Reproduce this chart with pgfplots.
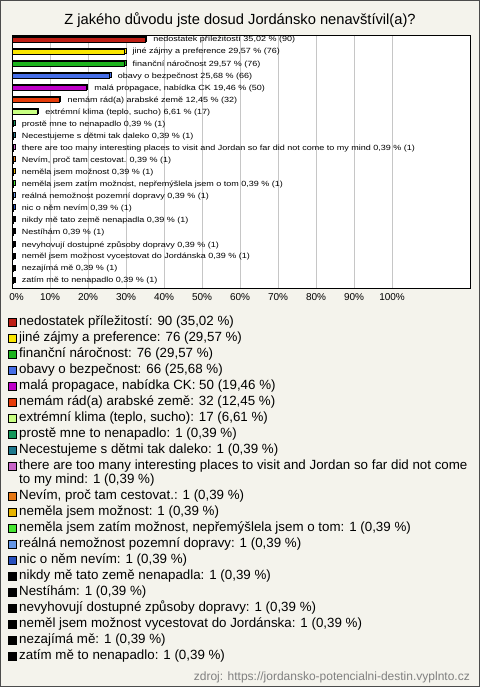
\documentclass[border=0pt]{standalone}
\usepackage{pgfplots}
\pgfplotsset{compat=1.18}
\usepackage{fontspec}
\setmainfont{Liberation Sans}
\newfontfamily\barfont[FakeStretch=1.2]{Liberation Sans}
\definecolor{bg}{RGB}{244,243,236}
\definecolor{ca}{RGB}{190,30,20}
\definecolor{cb}{RGB}{250,230,0}
\definecolor{cc}{RGB}{30,180,30}
\definecolor{cd}{RGB}{70,110,230}
\definecolor{ce}{RGB}{190,0,200}
\definecolor{cf}{RGB}{230,60,10}
\definecolor{cg}{RGB}{200,255,130}
\definecolor{ch}{RGB}{20,150,90}
\definecolor{ci}{RGB}{30,120,140}
\definecolor{cj}{RGB}{200,100,200}
\definecolor{ck}{RGB}{230,120,20}
\definecolor{cl}{RGB}{230,180,0}
\definecolor{cm}{RGB}{70,230,50}
\definecolor{cn}{RGB}{100,150,230}
\definecolor{co}{RGB}{40,80,190}
\definecolor{cz}{RGB}{0,0,0}
\newcommand\mybar[4]{%
\addplot[xbar, bar width=5pt, bar shift=0pt, fill=#3, draw=black, line width=0.7pt, xshift=1.5pt, yshift=1.5pt, forget plot] coordinates {(#2,#1)};
\addplot[xbar, bar width=5pt, bar shift=0pt, fill=#3, draw=black, line width=0.7pt, nodes near coords={#4}, every node near coord/.append style={anchor=west, xshift=8pt, font=\barfont\fontsize{7.5}{8}\selectfont, inner sep=0pt, text=black}, forget plot] coordinates {(#2,#1)};
}
\newcommand\leg[3]{%
\filldraw[fill=#2, draw=black, line width=0.6pt] (8pt,{-#1pt+4pt}) rectangle ++(8pt,-8pt);
\node[anchor=west, inner sep=0pt] at (19pt,{-#1pt}) {\fontsize{13.33}{15}\selectfont #3};}
\begin{document}
\begin{tikzpicture}
\path[use as bounding box] (0,0) rectangle (480pt,-687pt);
\fill[bg] (0,0) rectangle (480pt,-687pt);
\draw[gray!60!black, line width=1pt] (0.5pt,-0.5pt) rectangle (479.5pt,-686.5pt);
\node at (240pt,-20pt) {\fontsize{14.7}{16}\selectfont Z jakého důvodu jste dosud Jordánsko nenavštívil(a)?};
\begin{axis}[at={(12pt,-288pt)}, anchor=south west, scale only axis,
  width=458pt, height=253pt, xmin=0, xmax=120.5, ymin=-0.41, ymax=20.58,
  y dir=reverse, axis background/.style={fill=white},
  xtick={0,10,...,100},
  xticklabels={\hspace*{9pt}0\%,10\%,20\%,30\%,40\%,50\%,60\%,70\%,80\%,90\%,100\%},
  ytick=\empty, xmajorgrids, major grid style={gray!45, line width=0.6pt},
  major tick length=0pt, tick label style={font=\fontsize{10}{12}\selectfont},
  xticklabel style={yshift=-2pt},
  axis line style={black, line width=0.8pt}, clip=false]
\mybar{0}{35.02}{ca}{nedostatek příležitostí 35,02 \% (90)}
\mybar{1}{29.57}{cb}{jiné zájmy a preference 29,57 \% (76)}
\mybar{2}{29.57}{cc}{finanční náročnost 29,57 \% (76)}
\mybar{3}{25.68}{cd}{obavy o bezpečnost 25,68 \% (66)}
\mybar{4}{19.46}{ce}{malá propagace, nabídka CK 19,46 \% (50)}
\mybar{5}{12.45}{cf}{nemám rád(a) arabské země 12,45 \% (32)}
\mybar{6}{6.61}{cg}{extrémní klima (teplo, sucho) 6,61 \% (17)}
\mybar{7}{0.39}{ch}{prostě mne to nenapadlo 0,39 \% (1)}
\mybar{8}{0.39}{ci}{Necestujeme s dětmi tak daleko 0,39 \% (1)}
\mybar{9}{0.39}{cj}{there are too many interesting places to visit and Jordan so far did not come to my mind 0,39 \% (1)}
\mybar{10}{0.39}{ck}{Nevím, proč tam cestovat. 0,39 \% (1)}
\mybar{11}{0.39}{cl}{neměla jsem možnost 0,39 \% (1)}
\mybar{12}{0.39}{cm}{neměla jsem zatím možnost, nepřemýšlela jsem o tom 0,39 \% (1)}
\mybar{13}{0.39}{cn}{reálná nemožnost pozemní dopravy 0,39 \% (1)}
\mybar{14}{0.39}{co}{nic o něm nevím 0,39 \% (1)}
\mybar{15}{0.39}{cz}{nikdy mě tato země nenapadla 0,39 \% (1)}
\mybar{16}{0.39}{cz}{Nestíhám 0,39 \% (1)}
\mybar{17}{0.39}{cz}{nevyhovují dostupné způsoby dopravy 0,39 \% (1)}
\mybar{18}{0.39}{cz}{neměl jsem možnost vycestovat do Jordánska 0,39 \% (1)}
\mybar{19}{0.39}{cz}{nezajímá mě 0,39 \% (1)}
\mybar{20}{0.39}{cz}{zatím mě to nenapadlo 0,39 \% (1)}
\end{axis}
\leg{322}{ca}{nedostatek příležitostí: 90 (35,02 \%)}
\leg{338}{cb}{jiné zájmy a preference: 76 (29,57 \%)}
\leg{354}{cc}{finanční náročnost: 76 (29,57 \%)}
\leg{370}{cd}{obavy o bezpečnost: 66 (25,68 \%)}
\leg{386}{ce}{malá propagace, nabídka CK: 50 (19,46 \%)}
\leg{402}{cf}{nemám rád(a) arabské země: 32 (12,45 \%)}
\leg{418}{cg}{extrémní klima (teplo, sucho): 17 (6,61 \%)}
\leg{434}{ch}{prostě mne to nenapadlo: 1 (0,39 \%)}
\leg{450}{ci}{Necestujeme s dětmi tak daleko: 1 (0,39 \%)}
\leg{466}{cj}{there are too many interesting places to visit and Jordan so far did not come}
\node[anchor=west, inner sep=0pt] at (19pt,-480pt) {\fontsize{13.33}{15}\selectfont to my mind: 1 (0,39 \%)};
\leg{496}{ck}{Nevím, proč tam cestovat.: 1 (0,39 \%)}
\leg{512}{cl}{neměla jsem možnost: 1 (0,39 \%)}
\leg{528}{cm}{neměla jsem zatím možnost, nepřemýšlela jsem o tom: 1 (0,39 \%)}
\leg{544}{cn}{reálná nemožnost pozemní dopravy: 1 (0,39 \%)}
\leg{560}{co}{nic o něm nevím: 1 (0,39 \%)}
\leg{576}{cz}{nikdy mě tato země nenapadla: 1 (0,39 \%)}
\leg{592}{cz}{Nestíhám: 1 (0,39 \%)}
\leg{608}{cz}{nevyhovují dostupné způsoby dopravy: 1 (0,39 \%)}
\leg{624}{cz}{neměl jsem možnost vycestovat do Jordánska: 1 (0,39 \%)}
\leg{640}{cz}{nezajímá mě: 1 (0,39 \%)}
\leg{656}{cz}{zatím mě to nenapadlo: 1 (0,39 \%)}
\node[anchor=east, inner sep=0pt, text=gray] at (470pt,-677pt) {\fontsize{12}{14}\selectfont zdroj: https://jordansko-potencialni-destin.vyplnto.cz};
\end{tikzpicture}
\end{document}
